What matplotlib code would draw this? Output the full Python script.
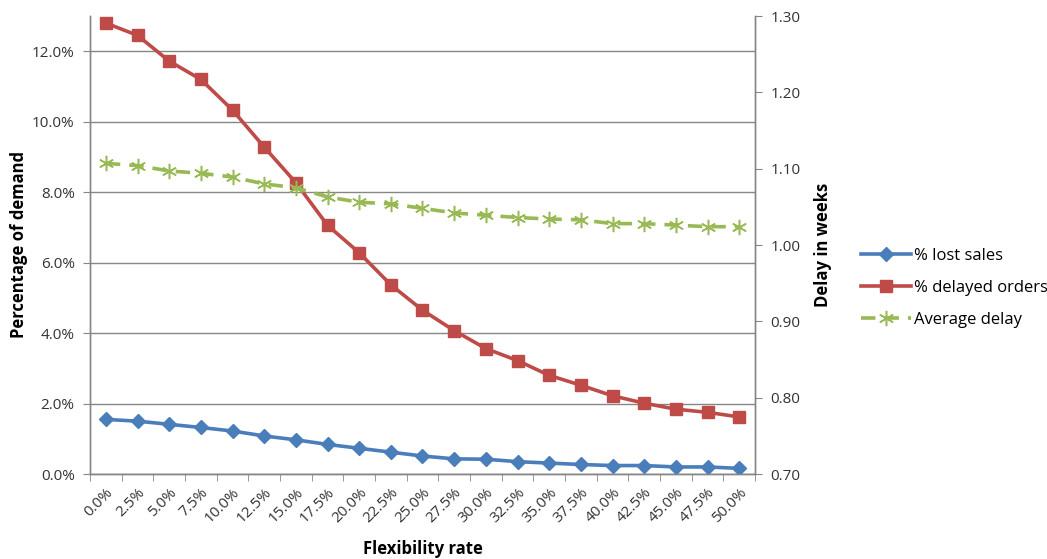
import matplotlib
matplotlib.use("Agg")
import matplotlib.pyplot as plt
import numpy as np
from matplotlib.ticker import FixedLocator, PercentFormatter

plt.rcParams['font.family'] = ['Open Sans', 'DejaVu Sans']

categories = ["0.0%", "2.5%", "5.0%", "7.5%", "10.0%", "12.5%", "15.0%", "17.5%", "20.0%",
              "22.5%", "25.0%", "27.5%", "30.0%", "32.5%", "35.0%", "37.5%", "40.0%",
              "42.5%", "45.0%", "47.5%", "50.0%"]
lost_sales = [1.55, 1.50, 1.41, 1.32, 1.22, 1.08, 0.97, 0.84, 0.73, 0.62, 0.51, 0.43, 0.42,
              0.35, 0.31, 0.27, 0.24, 0.24, 0.20, 0.20, 0.16]
delayed_orders = [12.80, 12.45, 11.72, 11.20, 10.33, 9.28, 8.27, 7.06, 6.28, 5.37, 4.65, 4.07,
                  3.56, 3.22, 2.80, 2.52, 2.22, 2.01, 1.84, 1.75, 1.62]
avg_delay = [1.107, 1.104, 1.097, 1.094, 1.089, 1.080, 1.075, 1.063, 1.056, 1.054, 1.048,
             1.042, 1.039, 1.036, 1.034, 1.033, 1.028, 1.028, 1.026, 1.024, 1.024]

blue = '#4A7EBB'
red = '#BE4B48'
green = '#98B954'
grid_c = '#868686'

fig = plt.figure(figsize=(10.47, 5.59), dpi=100)
ax = fig.add_axes([90/1047, 1-474/559, (755-90)/1047, (474-16)/559])
ax2 = ax.twinx()

x = np.arange(len(categories))
l1, = ax.plot(x, lost_sales, color=blue, lw=2.6, marker='D', ms=7.5, label='% lost sales', zorder=3)
l2, = ax.plot(x, delayed_orders, color=red, lw=2.6, marker='s', ms=8.5, label='% delayed orders', zorder=3)
l3, = ax2.plot(x, avg_delay, color=green, lw=2.6, ls=(0, (4, 2.5)), marker=(6, 2, 0), ms=11,
               mew=1.1, mec=green, label='Average delay', zorder=3)

ax.set_xlim(-0.5, len(categories) - 0.5)
ax.set_ylim(0, 13)
ax2.set_ylim(0.70, 1.30)

ax.set_yticks(np.arange(0, 12.1, 2))
ax.yaxis.set_major_formatter(PercentFormatter(decimals=1))
ax2.set_yticks(np.arange(0.70, 1.301, 0.10))
ax2.set_yticklabels([f"{v:.2f}" for v in np.arange(0.70, 1.301, 0.10)])

ax.set_xticks(x)
ax.set_xticklabels(categories, rotation=45, ha='right', rotation_mode='anchor')
ax.xaxis.set_minor_locator(FixedLocator(np.arange(-0.5, len(categories), 1)))
ax.tick_params(axis='x', which='major', length=0, pad=8, labelsize=11, colors='#333333')
ax.tick_params(axis='x', which='minor', length=5, color=grid_c)
ax.tick_params(axis='y', length=5, color=grid_c, labelsize=11, labelcolor='#333333', pad=6)
ax2.tick_params(axis='y', length=5, color=grid_c, labelsize=11, labelcolor='#333333', pad=6)

ax.grid(axis='y', color=grid_c, lw=1.0)
ax.set_axisbelow(True)
for a in (ax, ax2):
    a.spines['top'].set_visible(False)
    for s in ('left', 'right', 'bottom'):
        a.spines[s].set_color(grid_c)
        a.spines[s].set_linewidth(1.0)

ax.set_ylabel('Percentage of demand', fontsize=12, fontweight='bold', labelpad=3)
ax2.set_ylabel('Delay in weeks', fontsize=12, fontweight='bold', labelpad=10)
ax.set_xlabel('Flexibility rate', fontsize=12, fontweight='bold', labelpad=10)

fig.legend(handles=[l1, l2, l3], loc='center left', bbox_to_anchor=(846/1047, 1-288/559),
           frameon=False, fontsize=12, handlelength=3.0, labelspacing=0.95, handletextpad=0.2)

fig.savefig('out.png', dpi=100)
